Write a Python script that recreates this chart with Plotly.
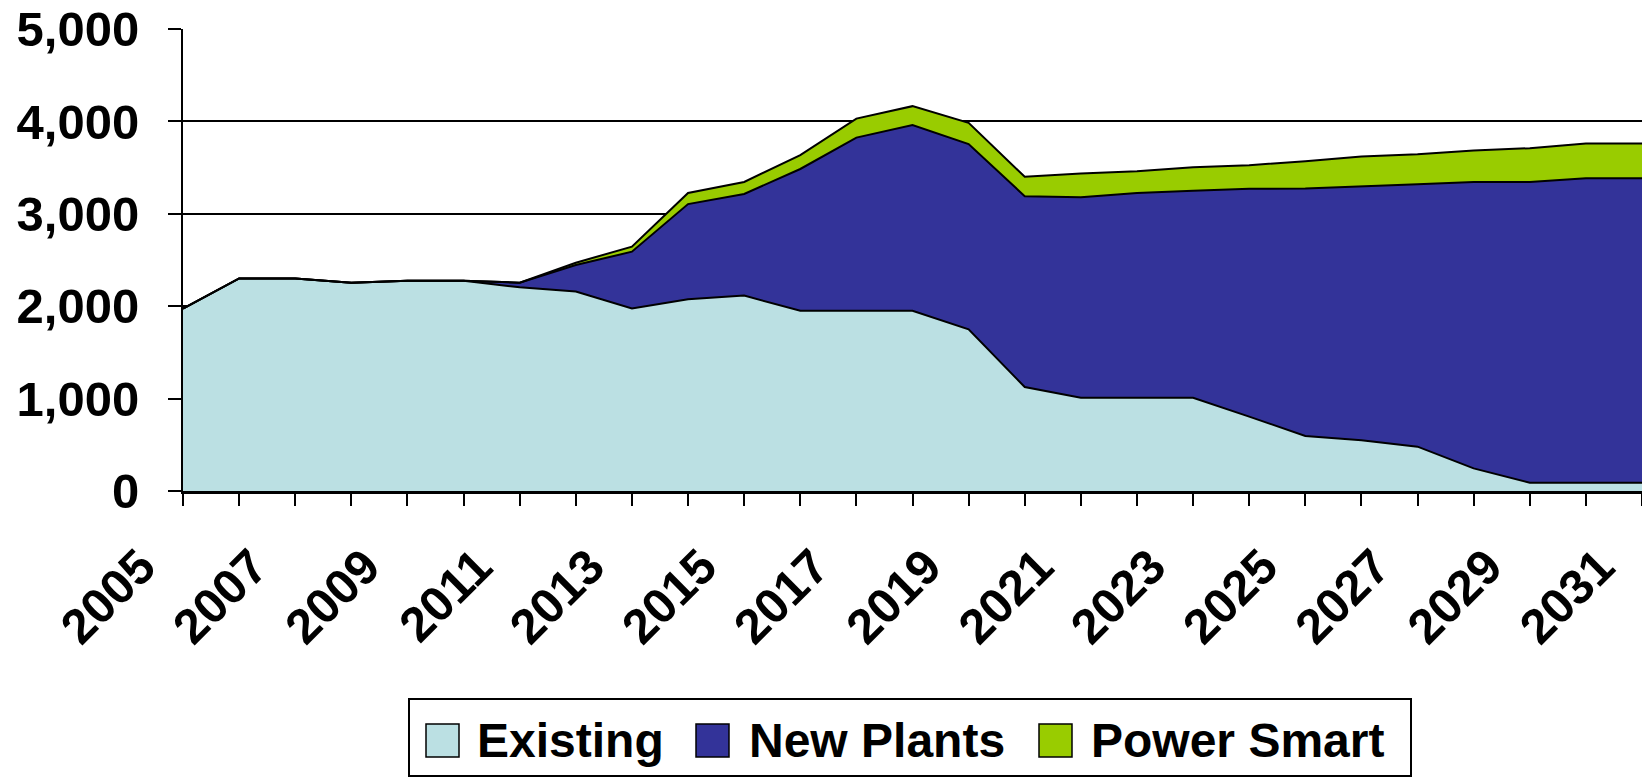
import plotly.graph_objects as go

years = list(range(2005, 2032))
existing = [1975, 2300, 2300, 2255, 2275, 2275, 2205, 2160, 1975, 2075, 2115, 1950, 1950, 1950,
            1750, 1125, 1010, 1010, 1010, 805, 595, 550, 480, 245, 90, 90, 90]
new_plants = [0, 0, 0, 0, 0, 0, 50, 285, 615, 1030, 1100, 1535, 1875, 2010,
              2005, 2065, 2170, 2215, 2240, 2465, 2680, 2745, 2840, 3100, 3255, 3295, 3295]
power_smart = [0, 0, 0, 0, 0, 0, 0, 25, 55, 120, 130, 150, 205, 205,
               230, 210, 255, 235, 255, 255, 295, 325, 325, 340, 365, 375, 375]
tick_labels = [str(y) if (y - 2005) % 2 == 0 else "" for y in years]
y_ticks = [0, 1000, 2000, 3000, 4000, 5000]

series_names = ["Existing", "New Plants", "Power Smart"]
series_values = [existing, new_plants, power_smart]
series_colors = ["#BBE0E3", "#333399", "#99CC00"]

W, H = 1642, 777
L, R, T, B = 183, 0, 29, 286
PW, PH = W - L - R, H - T - B


def px(xpix):
    return (xpix - L) / PW


def py(ypix):
    return (H - B - ypix) / PH


fig = go.Figure()
for name, vals, col in zip(series_names, series_values, series_colors):
    fig.add_trace(go.Scatter(x=years, y=vals, name=name, stackgroup="one", mode="lines",
                             line=dict(color="black", width=2), fillcolor=col,
                             showlegend=False, hoverinfo="skip"))

font = "Liberation Sans, Arial, sans-serif"

# legend drawn as a boxed row (box, swatches, labels)
shapes = [dict(type="rect", xref="paper", yref="paper",
               x0=px(409), x1=px(1411), y0=py(776), y1=py(699),
               line=dict(color="black", width=2), fillcolor="white", layer="above")]
annotations = []
swatch_x = [426, 696, 1039]
text_x = [475, 747, 1089]
for name, col, sx, tx in zip(series_names, series_colors, swatch_x, text_x):
    shapes.append(dict(type="rect", xref="paper", yref="paper",
                       x0=px(sx), x1=px(sx + 33), y0=py(757), y1=py(724),
                       line=dict(color="black", width=1.5), fillcolor=col, layer="above"))
    annotations.append(dict(text=name, xref="paper", yref="paper", x=px(tx), y=py(740),
                            xanchor="left", yanchor="middle", showarrow=False,
                            font=dict(family=font, size=48, color="black", weight="bold")))

fig.update_layout(
    width=W, height=H,
    margin=dict(l=L, r=R, t=T, b=B, autoexpand=False),
    plot_bgcolor="white", paper_bgcolor="white",
    font=dict(family=font, size=48, color="black"),
    showlegend=False,
    shapes=shapes, annotations=annotations,
    xaxis=dict(range=[2005, 2031.0], tickmode="array", tickvals=years, ticktext=tick_labels,
               tickangle=-45, ticks="outside", ticklen=12, tickwidth=2, tickcolor="black",
               showgrid=False, showline=True, linecolor="black", linewidth=3,
               ticklabelshift=-42, ticklabelstandoff=12, automargin=False,
               tickfont=dict(family=font, size=49, weight="bold"), zeroline=False),
    yaxis=dict(range=[0, 5000], tickmode="array", tickvals=y_ticks,
               ticktext=[f"{v:,}" for v in y_ticks],
               ticks="outside", ticklen=13, tickwidth=2, tickcolor="black",
               showgrid=True, gridcolor="black", gridwidth=2,
               showline=True, linecolor="black", linewidth=2, zeroline=False,
               ticklabelstandoff=19, automargin=False,
               tickfont=dict(family=font, size=49, weight="bold")),
)
fig.write_html("out.html", config={"displayModeBar": False},
               post_script="document.body.style.margin='0px';")
